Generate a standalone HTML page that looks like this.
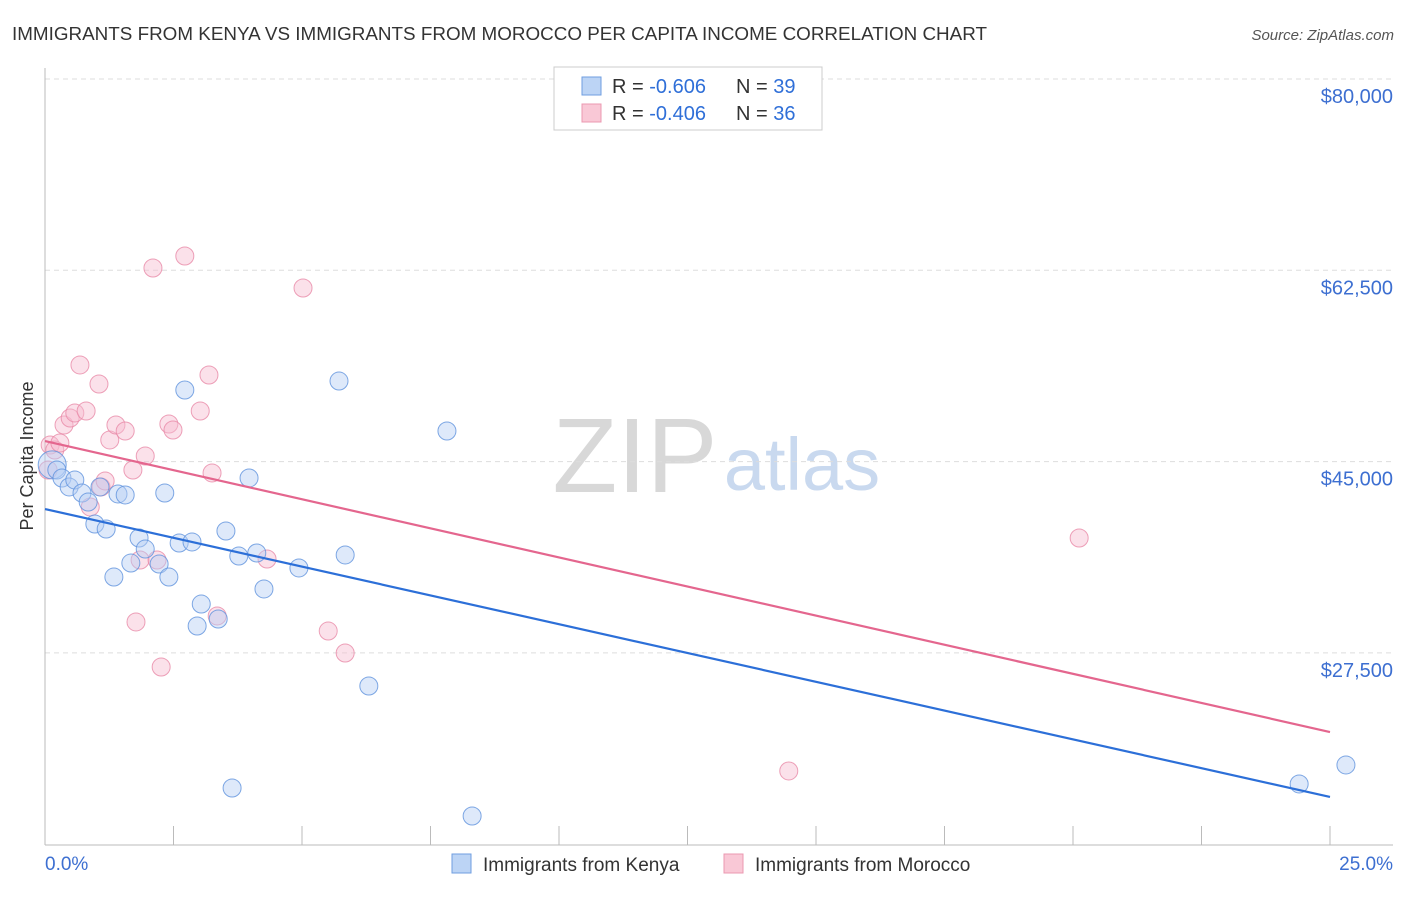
<!DOCTYPE html>
<html><head><meta charset="utf-8"><style>
body{margin:0;background:#fff;font-family:"Liberation Sans",sans-serif;}
svg text{font-family:"Liberation Sans",sans-serif;}
</style></head><body>
<svg id="c" width="1406" height="892" xmlns="http://www.w3.org/2000/svg">
<text x="12" y="40" font-size="18" fill="#333" textLength="975" lengthAdjust="spacingAndGlyphs">IMMIGRANTS FROM KENYA VS IMMIGRANTS FROM MOROCCO PER CAPITA INCOME CORRELATION CHART</text>
<text x="1394" y="40" font-size="15" fill="#555" text-anchor="end" font-style="italic">Source: ZipAtlas.com</text>
<text x="33" y="456" font-size="18" fill="#333" text-anchor="middle" transform="rotate(-90 33 456)">Per Capita Income</text>
<g><text x="635" y="492" font-size="106" fill="#d8d8d8" font-family="Liberation Serif" text-anchor="middle">ZIP</text><text x="802" y="490" font-size="74" fill="#c9d9ef" text-anchor="middle">atlas</text></g>
<g id="grid"></g><g id="axes"></g><g id="pts"></g><g id="trend"></g>
<g>
<rect x="554" y="67" width="268" height="63" fill="#fff" stroke="#ccc"/>
<rect x="582" y="77" width="19" height="18" fill="#bcd4f5" stroke="#6f9ee0"/>
<rect x="582" y="104" width="19" height="18" fill="#f9c8d6" stroke="#eb98b0"/>
<text x="612" y="93" font-size="20" fill="#333">R = <tspan fill="#2f6fd8">-0.606</tspan></text>
<text x="736" y="93" font-size="20" fill="#333">N = <tspan fill="#2f6fd8">39</tspan></text>
<text x="612" y="120" font-size="20" fill="#333">R = <tspan fill="#2f6fd8">-0.406</tspan></text>
<text x="736" y="120" font-size="20" fill="#333">N = <tspan fill="#2f6fd8">36</tspan></text>
</g>
<g>
<rect x="452" y="854" width="19" height="19" fill="#bcd4f5" stroke="#6f9ee0"/>
<text x="483" y="871" font-size="19" fill="#333">Immigrants from Kenya</text>
<rect x="724" y="854" width="19" height="19" fill="#f9c8d6" stroke="#eb98b0"/>
<text x="755" y="871" font-size="19" fill="#333">Immigrants from Morocco</text>
</g>
</svg>
<script>
const yTicks=[80000,62500,45000,27500];
const yTickLabels=["$80,000","$62,500","$45,000","$27,500"];
const xTickLabels=["0.0%","25.0%"];
const kenyaX=[0.14,0.23,0.33,0.47,0.58,0.72,0.84,0.97,1.07,1.19,1.34,1.42,1.56,1.67,1.83,1.95,2.22,2.33,2.41,2.61,2.72,2.86,3.04,2.96,3.37,3.52,3.77,3.97,4.12,4.26,4.94,5.72,5.84,6.30,7.82,3.64,8.31,25.31,24.40];
const kenyaY=[44700,44230,43500,42680,43320,42130,41300,39290,42680,38830,34440,42040,41950,35720,38010,37000,35630,42130,34440,37550,51550,37650,31970,29960,30600,38650,36360,43500,36640,33350,35270,52370,36460,24470,47800,15140,12580,17250,15510];
const moroccoX=[0.10,0.19,0.29,0.37,0.49,0.58,0.68,0.80,0.88,1.05,1.09,1.17,1.26,1.38,1.56,1.71,1.77,1.85,1.95,2.10,2.18,2.26,2.41,2.49,2.72,3.02,3.19,3.25,3.35,4.32,5.02,5.51,5.84,14.47,20.12,0.06];
const moroccoY=[46520,46060,46700,48350,48990,49450,53840,49630,40850,52100,42680,43230,46980,48350,47800,44230,30330,36000,45510,62710,36000,26210,48440,47890,63810,49630,52920,43960,30880,36090,60880,29500,27490,16700,38010,44230];
const kenyaTrend=[40660,14320];
const moroccoTrend=[46880,20260];
const NS="http://www.w3.org/2000/svg";
const X=p=>45+p*(1330-45)/25;
const Y=v=>79+(80000-v)*191.3/17500;
function mk(t,a,parent){const e=document.createElementNS(NS,t);for(const k in a)e.setAttribute(k,a[k]);document.getElementById(parent).appendChild(e);return e;}
yTicks.forEach((v,i)=>{
 const l=mk('line',{x1:45,x2:1393,y1:Y(v),y2:Y(v),stroke:'#ddd','stroke-dasharray':'5,4'},'grid');
 
 
 const t=mk('text',{x:1393,y:Y(v)+24,'font-size':20,fill:'#3d6fd1','text-anchor':'end'},'grid');
 t.textContent=yTickLabels[i];
 
 
});
let a=mk('line',{x1:45,x2:45,y1:68,y2:845,stroke:'#bbb'},'axes');


a=mk('line',{x1:45,x2:1393,y1:845,y2:845,stroke:'#bbb'},'axes');


for(let i=0;i<=10;i++){const tk=mk('line',{x1:X(i*2.5),x2:X(i*2.5),y1:826,y2:845,stroke:'#bbb'},'axes');
 
 }
[[0,'start',45],[25,'end',1393]].forEach((d,i)=>{const t=mk('text',{x:d[2],y:870,'font-size':19,fill:'#3d6fd1','text-anchor':d[1]},'axes');t.textContent=xTickLabels[i];
 
 });
function pts(xs,ys,fill,stroke,name){xs.forEach((x,i)=>{const c=mk('circle',{cx:X(x),cy:Y(ys[i]),r:(name==='kenya-point'&&i===0)?14:9,fill:fill,'fill-opacity':0.45,stroke:stroke,'stroke-width':1,'stroke-opacity':0.8},'pts');
 
 });}
pts(moroccoX,moroccoY,'#f7bcd0','#e98aa8','morocco-point');
pts(kenyaX,kenyaY,'#b5cff3','#5f92dd','kenya-point');
let l=mk('line',{x1:X(0),y1:Y(kenyaTrend[0]),x2:X(25),y2:Y(kenyaTrend[1]),stroke:'#2c6fd8','stroke-width':2.2},'trend');


l=mk('line',{x1:X(0),y1:Y(moroccoTrend[0]),x2:X(25),y2:Y(moroccoTrend[1]),stroke:'#e4668e','stroke-width':2.2},'trend');


</script>
</body></html>
